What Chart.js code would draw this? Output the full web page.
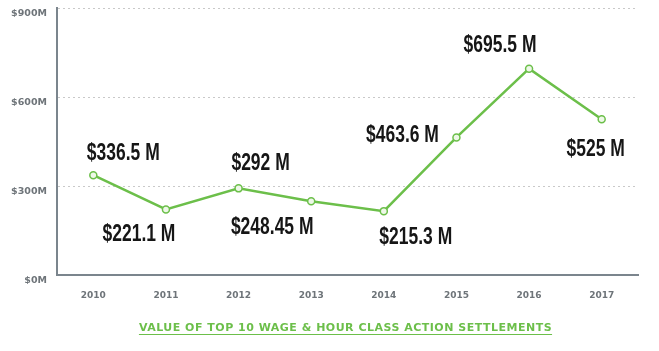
<!DOCTYPE html>
<html>
<head>
<meta charset="utf-8">
<script src="https://cdn.jsdelivr.net/npm/chart.js@4/dist/chart.umd.min.js"></script>
<style>
  html, body { margin: 0; padding: 0; background: #fff; }
  #wrap { width: 659px; height: 351px; }
</style>
</head>
<body>
<div id="wrap"><canvas id="chart" width="659" height="351"></canvas></div>
<script>
// Data
const years = ["2010", "2011", "2012", "2013", "2014", "2015", "2016", "2017"];
const settlements = [336.5, 221.1, 292, 248.45, 215.3, 463.6, 695.5, 525];
const valueLabels = ["$336.5 M", "$221.1 M", "$292 M", "$248.45 M", "$215.3 M", "$463.6 M", "$695.5 M", "$525 M"];
const yTicks = [0, 300, 600, 900];
const chartTitle = "VALUE OF TOP 10 WAGE & HOUR CLASS ACTION SETTLEMENTS";

// where each value label sits relative to its point (px)
const labelShift = [[30, -23], [-27, 24], [22, -26], [-39, 25], [32, 26], [-54, -3], [-29, -24], [-6, 29]];

const green = '#6cbf4a';
const axisGray = '#7b858d';
const tickGray = '#6e7479';

const ctx = document.getElementById('chart').getContext('2d');

// Value labels next to the points (condensed look by squeezing the font)
const valueLabelPlugin = {
  id: 'valueLabels',
  afterDatasetsDraw(chart) {
    const c = chart.ctx;
    const pts = chart.getDatasetMeta(0).data;
    const squeeze = 0.76;
    c.save();
    c.font = 'bold 23px "Liberation Sans", Arial, sans-serif';
    c.fillStyle = '#161616';
    c.textAlign = 'center';
    c.textBaseline = 'middle';
    pts.forEach((p, i) => {
      c.save();
      c.translate(p.x + labelShift[i][0], p.y + labelShift[i][1]);
      c.scale(squeeze, 1);
      c.fillText(valueLabels[i], 0, 1);
      c.restore();
    });
    c.restore();
  }
};

// Underlined green caption under the chart
const captionPlugin = {
  id: 'caption',
  afterDraw(chart) {
    const c = chart.ctx;
    const area = chart.chartArea;
    const cx = (area.left + area.right) / 2 - 2;
    const y = 328;
    c.save();
    c.font = 'bold 11px "DejaVu Sans", sans-serif';
    c.letterSpacing = '0.5px';
    c.fillStyle = green;
    c.textAlign = 'center';
    c.textBaseline = 'middle';
    c.fillText(chartTitle, cx, y);
    const w = c.measureText(chartTitle).width;
    c.strokeStyle = green;
    c.lineWidth = 1;
    c.beginPath();
    c.moveTo(cx - w / 2, y + 6.5);
    c.lineTo(cx + w / 2, y + 6.5);
    c.stroke();
    c.restore();
  }
};

let myChart = new Chart(ctx, {
  type: 'line',
  data: {
    labels: years,
    datasets: [{
      label: 'Settlements',
      data: settlements,
      borderColor: green,
      borderWidth: 2.5,
      pointRadius: 3.5,
      pointBorderWidth: 1.5,
      pointBorderColor: green,
      pointBackgroundColor: '#eef8e8',
      tension: 0
    }]
  },
  options: {
    responsive: false,
    animation: false,
    layout: { padding: { top: 8, right: 21, left: 0, bottom: 0 } },
    plugins: {
      legend: { display: false },
      tooltip: { enabled: false }
    },
    scales: {
      x: {
        offset: true,
        grid: { display: false, drawTicks: false },
        border: { display: true, color: axisGray, width: 2 },
        ticks: {
          color: tickGray,
          padding: 15,
          font: { family: '"DejaVu Sans", sans-serif', size: 9, weight: 'bold' }
        },
        afterFit(scale) { scale.height = 76; }
      },
      y: {
        min: 0,
        max: 900,
        afterBuildTicks(scale) { scale.ticks = yTicks.map(v => ({ value: v })); },
        grid: { color: '#c9c9c9', lineWidth: 1, drawTicks: false },
        border: { display: true, color: axisGray, width: 2, dash: [2, 3] },
        ticks: {
          color: tickGray,
          padding: 10,
          labelOffset: 6,
          font: { family: '"DejaVu Sans", sans-serif', size: 9.5, weight: 'bold' },
          callback: v => '$' + v + 'M'
        },
        afterFit(scale) {
          scale.width = 57;
          scale.paddingTop = 0;
          scale.paddingBottom = 0;
        }
      }
    }
  },
  plugins: [valueLabelPlugin, captionPlugin]
});
</script>
</body>
</html>
